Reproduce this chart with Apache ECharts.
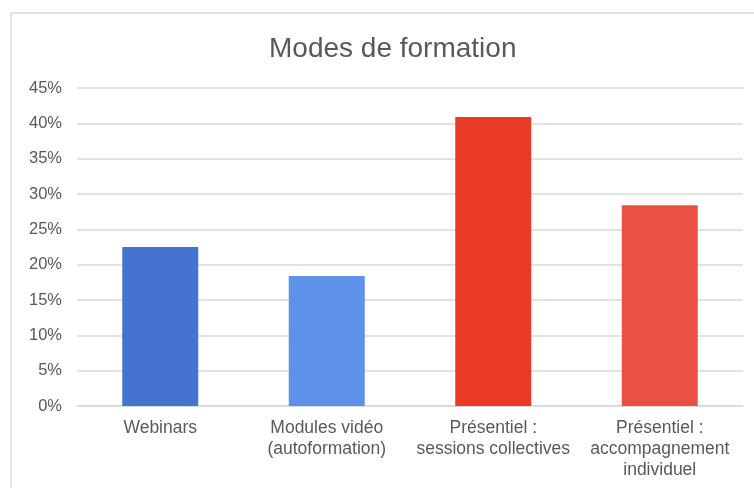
<!DOCTYPE html>
<html>
<head>
<meta charset="utf-8">
<script src="https://cdn.jsdelivr.net/npm/echarts@6/dist/echarts.min.js"></script>
<style>
  html, body { margin: 0; padding: 0; background: #fff; }
  #main { width: 754px; height: 488px; }
</style>
</head>
<body>
<div id="main"></div>
<script>
var myChart = echarts.init(document.getElementById('main'));

var categories = ['Webinars', 'Modules vidéo\n(autoformation)', 'Présentiel :\nsessions collectives', 'Présentiel :\naccompagnement\nindividuel'];
var values = [22.5, 18.4, 40.9, 28.4];
var barColors = ['#4374cf', '#5e91ea', '#e93a26', '#ea5143'];

var option = {
    backgroundColor: '#fff',
    animation: false,
    title: {
        text: 'Modes de formation',
        left: 264,   // frame runs past the right edge, so title sits right of page centre
        top: 30,
        textStyle: {
            fontFamily: 'Liberation Sans',
            fontSize: 28,
            fontWeight: 'normal',
            color: '#595959'
        }
    },
    graphic: [
        { // chart frame
            type: 'rect',
            shape: { x: 11, y: 13, width: 760, height: 490 },
            style: { fill: 'none', stroke: '#d9d9d9', lineWidth: 1.5 },
            silent: true
        }
    ],
    grid: {
        left: 77,
        right: 11,
        top: 88,
        bottom: 82
    },
    xAxis: {
        type: 'category',
        data: categories,
        axisTick: { show: false },
        axisLine: { lineStyle: { color: '#d9d9d9', width: 1.5 } },
        axisLabel: {
            interval: 0,
            margin: 12,
            fontFamily: 'Liberation Sans',
            fontSize: 17.5,
            lineHeight: 21,
            color: '#595959'
        }
    },
    yAxis: {
        type: 'value',
        min: 0,
        max: 45,
        interval: 5,
        axisLine: { show: false },
        axisTick: { show: false },
        splitLine: { lineStyle: { color: '#d9d9d9', width: 1.5 } },
        axisLabel: {
            formatter: '{value}%',
            margin: 15,
            fontFamily: 'Liberation Sans',
            fontSize: 16.5,
            color: '#595959'
        }
    },
    series: [
        {
            type: 'bar',
            barWidth: 76,
            data: values.map(function (v, i) {
                return { value: v, itemStyle: { color: barColors[i] } };
            })
        }
    ]
};

myChart.setOption(option);
</script>
</body>
</html>
